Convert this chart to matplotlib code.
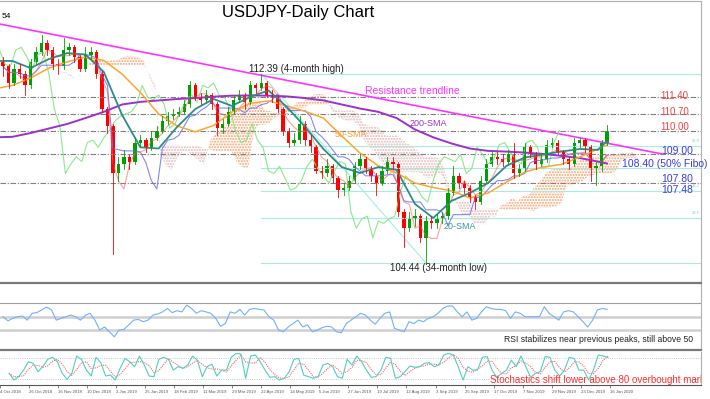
import numpy as np
import pandas as pd
import matplotlib
matplotlib.use('Agg')
import matplotlib.pyplot as plt

plt.rcParams['font.family'] = ['Liberation Sans', 'DejaVu Sans']
plt.rcParams['hatch.linewidth'] = 1.0

# one candle every 3 trading days, first one at bar 5 (bar 0 = 4 Oct 2018)
closes = [112.7, 112.0, 112.6, 112.4, 111.9, 112.9, 113.3, 113.7, 113.4, 112.8,
          112.7, 113.4, 113.5, 113.1, 112.6, 113.2, 113.3, 112.4, 110.9, 110.2,
          108.2, 108.6, 108.9, 108.7, 109.5, 109.6, 109.3, 109.7, 110.0, 110.4,
          110.6, 110.7, 110.8, 111.1, 111.9, 111.4, 111.3, 111.5, 111.1, 110.1,
          110.3, 110.8, 111.3, 111.5, 111.2, 111.9, 111.8, 112.0, 111.5, 111.4,
          110.9, 110.0, 109.5, 109.6, 110.3, 109.6, 109.3, 108.3, 108.2, 108.5,
          108.0, 107.5, 107.6, 107.9, 108.5, 108.8, 108.4, 108.1, 107.8, 108.3,
          108.7, 108.6, 106.6, 105.9, 106.3, 106.4, 105.5, 106.2, 106.1, 106.3,
          106.4, 107.4, 108.1, 107.8, 107.6, 107.2, 107.0, 107.9, 108.6, 108.9,
          108.8, 108.7, 109.0, 108.2, 108.4, 109.3, 109.0, 108.6, 108.8, 109.4,
          109.5, 109.1, 108.8, 108.6, 109.5, 109.6, 109.3, 108.4, 108.5, 109.5,
          110.0]
highs = [113.1, 112.8, 112.8, 112.8, 112.5, 113.0, 113.5, 114.0, 113.8, 113.5,
         113.0, 113.9, 113.7, 113.6, 113.2, 113.5, 113.5, 113.4, 112.5, 111.0,
         110.3, 108.9, 109.2, 109.0, 109.7, 109.8, 109.7, 110.0, 110.2, 110.6,
         110.8, 110.9, 111.0, 111.3, 112.1, 112.0, 111.6, 111.7, 111.6, 111.2,
         110.5, 111.0, 111.5, 111.7, 111.6, 112.1, 112.0, 112.39, 112.1, 111.7,
         111.5, 111.0, 110.1, 109.9, 110.6, 110.4, 109.8, 109.4, 108.5, 108.8,
         108.6, 108.1, 107.8, 108.1, 108.7, 109.0, 108.9, 108.5, 108.2, 108.5,
         108.9, 108.9, 108.7, 106.7, 106.6, 106.7, 106.5, 106.4, 106.4, 106.5,
         106.6, 107.6, 108.5, 108.2, 107.9, 107.7, 107.3, 108.1, 108.8, 109.1,
         109.1, 109.0, 109.2, 109.5, 108.6, 109.5, 109.4, 109.1, 109.0, 109.6,
         109.7, 109.6, 109.2, 108.9, 109.7, 109.7, 109.7, 109.4, 108.7, 109.6,
         110.25]
lows = [112.3, 111.8, 111.9, 112.2, 111.5, 111.8, 112.8, 113.2, 113.2, 112.6,
        112.4, 112.6, 113.2, 112.9, 112.5, 112.5, 113.0, 112.2, 110.8, 109.9,
        104.8, 107.9, 108.4, 108.4, 108.6, 109.3, 109.1, 109.2, 109.6, 109.9,
        110.3, 110.5, 110.6, 110.7, 111.0, 111.3, 111.1, 111.2, 110.9, 109.8,
        109.9, 110.2, 110.7, 111.2, 110.9, 111.1, 111.6, 111.7, 111.4, 111.2,
        110.8, 109.8, 109.3, 109.4, 109.5, 109.4, 109.1, 108.2, 108.0, 108.1,
        107.8, 107.2, 107.3, 107.5, 107.8, 108.4, 108.2, 107.9, 107.3, 107.7,
        108.2, 108.4, 106.4, 105.1, 105.8, 106.0, 105.3, 104.44, 105.9, 105.9,
        106.1, 106.3, 107.3, 107.6, 107.4, 107.0, 106.7, 106.9, 107.8, 108.5,
        108.6, 108.5, 108.6, 108.0, 108.1, 108.3, 108.9, 108.4, 108.5, 108.7,
        109.3, 109.0, 108.6, 108.4, 108.5, 109.3, 109.1, 107.9, 107.7, 108.3,
        109.4]
first_open = 112.9

# moving averages read every 10 bars
sma_x = [0, 10, 20, 30, 40, 50, 60, 70, 80, 90, 100, 110, 120, 130, 140, 150, 160,
         170, 180, 190, 200, 210, 220, 230, 240, 250, 260, 270, 280, 290, 300, 310,
         320, 330, 335]
sma20 = [112.93, 112.93, 112.63, 113.01, 113.26, 113.20, 112.47, 110.66, 109.30, 109.25,
         110.15, 110.91, 111.33, 111.04, 111.42, 111.69, 111.00, 110.16, 109.23, 108.47,
         108.22, 108.47, 108.35, 106.92, 106.33, 107.05, 107.38, 107.80, 108.52, 108.87,
         109.00, 109.12, 109.23, 109.19, 109.57]
sma50 = [111.75, 111.90, 112.21, 112.63, 112.89, 113.10, 112.95, 112.38, 111.60, 110.70,
         110.20, 109.95, 110.22, 110.78, 111.15, 111.25, 111.04, 110.81, 110.53, 109.78,
         109.06, 108.52, 108.22, 107.80, 107.61, 107.47, 107.17, 107.38, 107.84, 108.26,
         108.47, 108.58, 108.89, 109.23, 109.40]
sma200 = [109.72, 109.74, 109.90, 110.09, 110.28, 110.53, 110.79, 111.10, 111.21, 111.27,
          111.33, 111.37, 111.43, 111.47, 111.48, 111.47, 111.44, 111.37, 111.27, 111.10,
          110.93, 110.79, 110.53, 110.05, 109.72, 109.46, 109.25, 109.15, 109.12, 109.08,
          109.02, 108.94, 108.85, 108.70, 108.62]

red_levels = [111.40, 110.70, 110.00]
blue_levels = [109.00, 107.80]
fib_high = 112.39
fib_low = 104.44
fib_pcts = [0.0, 23.6, 38.2, 50.0, 61.8, 100.0]
trend_x = [0, 365]
trend_y = [114.53, 109.02]

rsi = [50, 44, 47.6, 50, 51, 45, 55, 56, 60, 64, 60, 45, 47.6, 50, 52.4, 50, 45, 52, 55, 45,
       30.5, 35, 28, 20.7, 30.5, 31.5, 38, 45, 46, 42.7, 45, 52.4, 54, 57, 62, 56, 58.8, 57, 67, 62,
       55, 58.8, 57, 55, 47.6, 36, 40, 57, 55, 60.7, 52.4, 60.7, 62, 60.7, 59.8, 50, 45, 30.5, 28, 35,
       40, 45, 35, 38, 28, 30.5, 34, 36, 35, 28, 26.6, 40,
       45, 50, 55, 52.4, 45, 39, 47.6, 55, 57, 33, 30.5, 28, 42.7, 40, 45, 42.7, 47.6, 50, 55, 62,
       65.6, 65.6, 57, 50, 57, 45, 47.6, 57, 64.6, 62, 60.7, 60.7, 58.8, 47.6, 57, 55, 50, 50, 50, 50,
       64.6, 55, 50, 45, 57, 58.8, 57, 50, 42.7, 35, 45, 60, 62, 60.7]
stoch_k = [36, 17, 26.6, 45, 68.7, 64, 40.6, 54.7, 75.3, 81, 68.7, 36, 19, 36, 84.7, 75.3, 45, 28.4,
           81, 66, 28.4, 31, 17, 50, 78, 68.7, 54.7, 84.7, 59.4, 28.4, 26.6, 75.3, 81, 75.3, 45, 54.7,
           50, 59.4, 84.7, 73, 26.6, 54.7, 62, 28.4, 45, 45, 81, 92, 90, 22, 84.7, 87.5, 68.7, 45,
           24.7, 26.6, 17, 22, 40.6, 75.3, 78, 31, 26.6, 22, 26.6, 59.4, 64, 54.7, 26.6, 22, 75.3,
           59.4, 84.7, 68.7, 45, 24.7, 26.6, 45, 81, 78, 22, 26.6, 40.6, 56.6, 52.8, 54.7, 64, 66,
           54.7, 59.4, 87.5, 92, 87.5, 54.7, 17, 54.7, 45, 45, 81, 83, 45, 24.7, 36, 45, 73, 54.7,
           84.7, 54.7, 24.7, 36, 40.6, 83, 81, 45, 28.4, 45, 81, 78, 45, 45, 17, 45, 87.5, 84.7, 81]

date_labels = ['4 Oct 2018', '26 Oct 2018', '16 Nov 2018', '10 Dec 2018', '3 Jan 2019',
               '25 Jan 2019', '18 Feb 2019', '11 Mar 2019', '29 Mar 2019', '22 Apr 2019',
               '14 May 2019', '5 Jun 2019', '27 Jun 2019', '19 Jul 2019', '12 Aug 2019',
               '3 Sep 2019', '25 Sep 2019', '17 Oct 2019', '7 Nov 2019', '29 Nov 2019',
               '23 Dec 2019', '16 Jan 2020']

opens = [first_open] + closes[:-1]
cx = np.arange(len(closes)) * 3 + 5
xmin, xmax = 3.3, 386.3

fig = plt.figure(figsize=(7.1, 3.99), dpi=100)
W = 701 / 710
ax = fig.add_axes([0, 1 - 281 / 399, W, 280 / 399])
ax_rsi = fig.add_axes([0, 1 - 350 / 399, W, 67 / 399])
ax_st = fig.add_axes([0, 1 - 385 / 399, W, 33 / 399])

# ichimoku
df = pd.DataFrame({'h': highs, 'l': lows, 'c': closes})
tenkan = (df.h.rolling(3, min_periods=1).max() + df.l.rolling(3, min_periods=1).min()) / 2
kijun = (df.h.rolling(9, min_periods=1).max() + df.l.rolling(9, min_periods=1).min()) / 2
span_a = ((tenkan + kijun) / 2).values
span_b = ((df.h.rolling(17, min_periods=1).max() + df.l.rolling(17, min_periods=1).min()) / 2).values
ax.fill_between(cx + 26, span_a, span_b, where=span_a >= span_b, interpolate=True,
                facecolor='none', edgecolor='#f5a06e', hatch='......', linewidth=0)
ax.fill_between(cx + 26, span_a, span_b, where=span_a < span_b, interpolate=True,
                facecolor='none', edgecolor='#e2b6b6', hatch='......', linewidth=0)

# horizontal levels
for lv in red_levels + blue_levels:
    ax.plot([xmin, xmax], [lv, lv], color='#808080', lw=0.8, ls=(0, (5, 1.5, 1, 1.5)))

# fibonacci retracement from the 4-month high to the 34-month low
i_hi, i_lo = highs.index(fib_high), lows.index(fib_low)
for p in fib_pcts:
    lv = fib_low + (fib_high - fib_low) * p / 100
    ax.plot([cx[i_hi], xmax], [lv, lv], color='#a8ece0', lw=0.8)
    if p in (23.6, 38.2, 61.8):
        ax.text(381.5, lv + 0.12, '%.1f' % p, fontsize=3, color='#7fd8cc', va='bottom')
ax.plot([cx[i_hi], cx[i_lo]], [fib_high, fib_low], color='#a8ece0', lw=0.8)

# trendline
ax.plot(trend_x, trend_y, color='#ff33ff', lw=1.2)

# indicators
ax.plot(cx - 26, closes, color='#7ee87e', lw=0.8, alpha=0.9)
ax.plot(cx, kijun, color='#7070ff', lw=0.8, alpha=0.85)
ax.plot(cx, tenkan, color='#ff6060', lw=0.8, alpha=0.6)
ax.plot(sma_x, sma200, color='#9933cc', lw=1.4)
ax.plot(sma_x, sma50, color='#ffa530', lw=1.1)
ax.plot(sma_x, sma20, color='#2e8b8b', lw=1.3)

# candles
for x, o, h, l, c in zip(cx, opens, highs, lows, closes):
    col = '#00a000' if c >= o else '#ff0000'
    ax.plot([x, x], [l, h], color=col, lw=0.6)
    body = max(abs(c - o), 0.05)
    ax.bar(x, body, bottom=min(o, c), width=1.8, color=col, linewidth=0)

ax.set_xlim(xmin, xmax)
ax.set_ylim(103.68, 115.45)
ax.set_xticks([])
ax.set_yticks([])
for s in ['left', 'bottom']:
    ax.spines[s].set_visible(False)
ax.spines['top'].set_color('#b0b0b0')
ax.spines['right'].set_color('#b0b0b0')

# labels on main chart
ax.text(4.4, 114.78, '54', fontsize=6, va='center')
ax.text(139.3, 112.59, '112.39 (4-month high)', fontsize=7, va='center', color='#222222')
ax.text(216.4, 104.22, '104.44 (34-month low)', fontsize=7, va='center', color='#222222')
ax.text(202.7, 111.68, 'Resistance trendline', fontsize=7.5, va='center', color='#ff33ff')
ax.text(226.8, 110.28, '200-SMA', fontsize=6.5, va='center', color='#9933cc')
ax.text(186.3, 109.82, '50-SMA', fontsize=6.5, va='center', color='#ff9933')
ax.text(245.9, 105.97, '20-SMA', fontsize=6.5, va='center', color='#339999')
for lv, y in zip(red_levels, [111.47, 110.77, 110.16]):
    ax.text(363.9, y, '%.2f' % lv, fontsize=7, va='center', color='#ff4040')
ax.text(364.4, 109.16, '109.00', fontsize=7.5, va='center', color='#3a3ae8')
ax.text(343.0, 108.59, '108.40 (50% Fibo)', fontsize=7.5, va='center', color='#3a3ae8')
ax.text(364.4, 107.96, '107.80', fontsize=7.5, va='center', color='#3a3ae8')
ax.text(364.4, 107.52, '107.48', fontsize=7.5, va='center', color='#3a3ae8')
fig.text(298 / 710, 1 - 13 / 399, 'USDJPY-Daily Chart', fontsize=12, ha='center', va='center')

# RSI panel
ax_rsi.axhline(70, color='#a0a0a0', lw=0.8)
ax_rsi.axhline(50, color='#cfcfcf', lw=1.8)
ax_rsi.axhline(30, color='#cfcfcf', lw=1.8)
ax_rsi.plot(np.linspace(cx[0], cx[-1], len(rsi)), rsi, color='#6fb0ff', lw=0.8)
ax_rsi.set_xlim(xmin, xmax)
ax_rsi.set_ylim(1.4, 99.2)
ax_rsi.set_xticks([])
ax_rsi.set_yticks([])
ax_rsi.spines['left'].set_visible(False)
ax_rsi.spines['top'].set_color('#7a7a7a')
ax_rsi.spines['top'].set_linewidth(1.6)
ax_rsi.spines['bottom'].set_color('#7a7a7a')
ax_rsi.spines['bottom'].set_linewidth(1.6)
ax_rsi.spines['right'].set_color('#b0b0b0')
ax_rsi.text(382, 16, 'RSI stabilizes near previous peaks, still above 50', fontsize=6.2,
            ha='right', va='center', color='#222222')

# stochastics panel
st_x = np.linspace(cx[0], cx[-1], len(stoch_k))
stoch_d = pd.Series(stoch_k).rolling(3, min_periods=1).mean()
ax_st.axhline(80, color='#b8b8b8', lw=0.6, ls=':')
ax_st.axhline(20, color='#b8b8b8', lw=0.6, ls=':')
ax_st.plot(st_x, stoch_d, color='#ff6060', lw=0.8, ls=(0, (1, 1)))
ax_st.plot(st_x, stoch_k, color='#50cfc0', lw=0.8)
ax_st.text(270, 17.2, 'Stochastics shift lower above 80 overbought mark', fontsize=7,
           va='center', color='#ff3030', clip_on=True)
ax_st.set_xlim(xmin, xmax)
ax_st.set_ylim(3.1, 96)
ax_st.set_yticks([])
ax_st.set_xticks(np.arange(len(date_labels)) * 16)
ax_st.set_xticklabels(date_labels, fontsize=3.1, ha='left', color='#333333')
ax_st.tick_params(axis='x', length=2.5, width=0.5, pad=1, colors='#555555')
ax_st.spines['left'].set_visible(False)
ax_st.spines['top'].set_visible(False)
ax_st.spines['right'].set_color('#b0b0b0')
ax_st.spines['bottom'].set_color('#555555')
ax_st.spines['bottom'].set_linewidth(0.8)

fig.savefig('out.png', dpi=100)
